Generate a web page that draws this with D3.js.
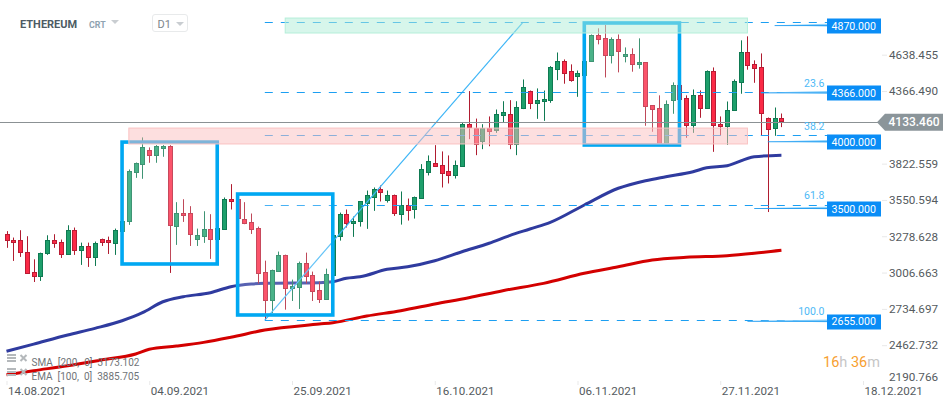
<!DOCTYPE html>
<html>
<head>
<meta charset="utf-8">
<title>ETHEREUM D1</title>
<style>
  html, body { margin: 0; padding: 0; background: #fff; }
  svg { display: block; font-family: Roboto, sans-serif; }
  .yaxis text, .xaxis text { fill: #555b60; font-family: Roboto, sans-serif; }
  .yaxis text { font-size: 11.7px; }
  .xaxis text { font-size: 11.6px; }
  .yaxis line, .xaxis line { stroke: #e9e9e9; }
</style>
</head>
<body>
<script src="https://d3js.org/d3.v7.min.js"></script>
<script>
// daily candles, first one is 14.08.2021
var firstDay = new Date(Date.UTC(2021, 7, 14));

var opens = [3292,3254,3247,3164,3014,2984,3146,3254,3239,3149,
  3329,3179,3209,3126,3261,3247,3231,3321,3389,3764,
  3816,3921,3884,3936,3951,3359,3456,3456,3261,3284,
  3336,3261,3336,3561,3554,3411,3389,3344,3014,2804,
  3021,3141,2894,2901,3081,2991,2879,2812,2991,3284,
  3449,3381,3389,3524,3576,3636,3546,3584,3449,3516,
  3479,3561,3764,3831,3816,3764,3734,3798,4116,4093,
  3993,4093,4068,4181,4198,3976,4241,4363,4273,4288,
  4293,4533,4595,4513,4473,4490,4588,4783,4761,4633,
  4753,4626,4641,4566,4581,4258,4236,3976,4296,4408,
  4311,4108,4334,4236,4513,4116,4108,4221,4431,4656,
  4566,4543,4168,4086,4161];
var highs = [3317,3269,3324,3279,3106,3156,3286,3294,3254,3361,
  3344,3231,3231,3239,3261,3276,3336,3411,3779,3831,
  4019,3944,3961,3961,3961,3534,3556,3504,3336,3466,
  3444,3349,3569,3669,3570,3534,3449,3351,3096,3029,
  3164,3141,2954,3089,3156,3014,2939,3036,3291,3456,
  3479,3426,3539,3621,3644,3659,3621,3591,3614,3561,
  3576,3819,3884,3961,3914,3884,3846,4128,4366,4160,
  4118,4176,4228,4290,4298,4290,4453,4370,4386,4370,
  4553,4655,4603,4566,4520,4595,4790,4836,4861,4768,
  4790,4693,4686,4761,4581,4258,4334,4296,4431,4408,
  4334,4378,4371,4521,4543,4176,4288,4453,4746,4776,
  4596,4648,4168,4243,4198];
var lows = [3192,3094,3124,3004,2936,2944,3139,3192,3116,3146,
  3139,3064,3049,3056,3206,3146,3139,3321,3364,3716,
  3709,3829,3829,3874,3004,3214,3386,3206,3206,3229,
  3109,3256,3334,3479,3404,3369,3296,2924,2649,2704,
  3021,2729,2794,2734,2924,2794,2779,2809,2991,3246,
  3344,3274,3351,3334,3469,3539,3531,3431,3366,3396,
  3411,3561,3734,3799,3644,3674,3711,3798,4006,3886,
  3931,3953,4053,4131,3931,3886,4231,4231,4158,4143,
  4278,4448,4421,4436,4323,4490,4588,4716,4468,4573,
  4506,4581,4511,4534,4106,4061,3976,3976,4196,4303,
  4016,4053,4166,4233,3911,4033,3963,4218,4346,4526,
  4428,4036,3460,4031,4096];
var closes = [3247,3239,3156,3006,2984,3156,3247,3229,3149,3329,
  3179,3209,3126,3231,3239,3231,3329,3396,3764,3831,
  3944,3884,3951,3951,3359,3456,3441,3299,3291,3336,
  3261,3344,3561,3546,3411,3379,3336,3004,2804,3029,
  3141,2894,2909,3081,2984,2871,2812,2999,3291,3449,
  3381,3396,3539,3584,3636,3614,3584,3449,3516,3479,
  3569,3779,3846,3809,3756,3734,3809,4116,4091,3976,
  4093,4068,4191,4206,3976,4250,4400,4273,4296,4303,
  4543,4595,4505,4446,4498,4595,4783,4753,4633,4753,
  4663,4641,4566,4581,4251,4228,3976,4266,4408,4303,
  4106,4334,4236,4513,4108,4101,4228,4438,4656,4558,
  4536,4198,4086,4161,4136];

// moving averages, read at these day numbers
var emaDays = [0,4,9,13,17,20,23,26,30,33,36,38,46,48,50,52,56,59,63,67,71,74,77,80,85,90,94,97,101,103,106,110,114];
var emaValues = [2417,2471,2539,2589,2646,2706,2788,2826,2856,2901,2921,2926,2931,2938,2964,2975,3031,3050,3095,3163,3226,3283,3333,3383,3513,3638,3695,3725,3762,3792,3807,3874,3885.7];
var smaDays = [0,4,9,14,19,21,25,29,33,38,46,48,53,58,63,68,73,79,85,90,95,100,106,110,114];
var smaValues = [2241,2272,2309,2352,2397,2432,2456,2484,2522,2576,2621,2631,2681,2721,2771,2818,2871,2926,3001,3050,3101,3121,3133,3151,3173.1];

// axis
var priceTicks = [4638.455,4366.490,3822.559,3550.594,3278.628,3006.663,2734.697,2462.732,2190.766];
var dateTicks = [0,21,42,63,84,105,126];

// horizontal levels with their blue tags
var tagPrices = [4870,4366,4000,3500,2655];
var tagFromDays = [113,111,112,110,109];

// fibonacci drawing
var fibLevels = [4883,4359,4037,3513,2651];
var fibNames = ["","23.6","38.2","61.8","100.0"];
var fibStartDay = 38;
var fibEndDay = 76;

// rectangles: first day, last day, top price, bottom price
var boxFirstDays = [17,34,85];
var boxLastDays = [31,48,99];
var boxTops = [3984,3595,4876];
var boxBottoms = [3071,2689,3962];

var greenZone = [41,109,4913,4801];
var redZone = [18,109,4089,3970];

var lastPrice = 4133.46;

var width = 950, height = 407;
var svg = d3.select("body").append("svg").attr("width", width).attr("height", height);

var x = d3.scaleUtc()
  .domain([firstDay, d3.utcDay.offset(firstDay, 126)])
  .range([6.5, 863]);
var y = d3.scaleLinear().domain([4638.455, 2462.732]).range([54.7, 345.2]);
function xd(n) { return x(d3.utcDay.offset(firstDay, n)); }

// axes
var yAxis = d3.axisRight(y).tickValues(priceTicks).tickSize(5).tickPadding(2)
  .tickFormat(d3.format(".3f"));
var gy = svg.append("g").attr("class", "yaxis").attr("transform", "translate(882,0)").call(yAxis);
gy.select(".domain").remove();
// lowest label is pushed up by the window edge
var lowTick = gy.selectAll(".tick").filter(function (d) { return d === 2190.766; });
lowTick.select("line").remove();
lowTick.select("text").attr("y", -4.5);

var xAxis = d3.axisBottom(x)
  .tickValues(dateTicks.map(function (n) { return d3.utcDay.offset(firstDay, n); }))
  .tickSize(-4).tickPadding(2).tickFormat(d3.utcFormat("%d.%m.%Y"));
var gx = svg.append("g").attr("class", "xaxis").attr("transform", "translate(0,385)").call(xAxis);
gx.select(".domain").remove();
gx.selectAll("text").attr("text-anchor", "start").attr("x", 1);

// moving averages under the candles
function maLine(days, values, color) {
  var line = d3.line()
    .curve(d3.curveMonotoneX)
    .x(function (d) { return xd(d); })
    .y(function (d, i) { return y(values[i]); });
  svg.append("path").attr("d", line(days))
    .attr("fill", "none").attr("stroke", color).attr("stroke-width", 3)
    .attr("stroke-linejoin", "round");
}
maLine(emaDays, emaValues, "#2f3b9f");
maLine(smaDays, smaValues, "#d30000");

// candles
var candles = svg.append("g").selectAll("g").data(opens).enter().append("g");
function isUp(i) { return closes[i] >= opens[i]; }
candles.append("line")
  .attr("x1", function (d, i) { return Math.round(xd(i)) + 0.5; })
  .attr("x2", function (d, i) { return Math.round(xd(i)) + 0.5; })
  .attr("y1", function (d, i) { return y(highs[i]); })
  .attr("y2", function (d, i) { return y(lows[i]); })
  .attr("stroke", function (d, i) { return isUp(i) ? "#0f7a52" : "#b01c30"; });
candles.append("rect")
  .attr("x", function (d, i) { return Math.round(xd(i)) - 1.5; })
  .attr("width", 4)
  .attr("y", function (d, i) { return Math.round(y(Math.max(opens[i], closes[i]))) + 0.5; })
  .attr("height", function (d, i) { return Math.max(1, Math.round(Math.abs(y(opens[i]) - y(closes[i])))); })
  .attr("fill", function (d, i) { return isUp(i) ? "#1d9f6b" : "#fb2a46"; })
  .attr("stroke", function (d, i) { return isUp(i) ? "#0f7a52" : "#b91c34"; });

// fibonacci trend line and dashed levels
svg.append("line")
  .attr("x1", xd(fibStartDay)).attr("y1", y(fibLevels[4]))
  .attr("x2", xd(fibEndDay)).attr("y2", y(fibLevels[0]))
  .attr("stroke", "#3db5f6").attr("stroke-width", 1.2);
svg.append("g").selectAll("line").data(fibLevels).enter().append("line")
  .attr("x1", xd(fibStartDay)).attr("x2", 827)
  .attr("y1", function (d) { return Math.round(y(d)) + 0.5; })
  .attr("y2", function (d) { return Math.round(y(d)) + 0.5; })
  .attr("stroke", "#1c9ff2").attr("stroke-dasharray", "8,8");

// blue rectangles, slightly veiling what is inside
svg.append("g").selectAll("rect").data(boxFirstDays).enter().append("rect")
  .attr("x", function (d) { return xd(d); })
  .attr("width", function (d, i) { return xd(boxLastDays[i]) - xd(d); })
  .attr("y", function (d, i) { return y(boxTops[i]); })
  .attr("height", function (d, i) { return y(boxBottoms[i]) - y(boxTops[i]); })
  .attr("fill", "rgba(255,255,255,0.2)")
  .attr("stroke", "#00a8f2").attr("stroke-width", 3.6);

// zones go over the rectangles
function zone(z, fill, edge) {
  svg.append("rect")
    .attr("x", xd(z[0])).attr("width", xd(z[1]) - xd(z[0]))
    .attr("y", y(z[2])).attr("height", y(z[3]) - y(z[2]))
    .attr("fill", fill).attr("stroke", edge);
}
zone(greenZone, "rgba(175,238,216,0.5)", "#b5eed9");
zone(redZone, "rgba(252,192,192,0.5)", "#fac2c2");

// last price line
svg.append("line")
  .attr("x1", 0).attr("x2", 878)
  .attr("y1", Math.round(y(lastPrice)) + 0.5).attr("y2", Math.round(y(lastPrice)) + 0.5)
  .attr("stroke", "#8b9194");

// tags on the right
var tags = svg.append("g").selectAll("g").data(tagPrices).enter().append("g");
tags.append("path")
  .attr("d", function (d, i) {
    var a = xd(tagFromDays[i]), b = y(d);
    return "M" + a + "," + (b + 1.5) + "L827," + b + "L827," + (b + 2.6) + "Z";
  })
  .attr("fill", "#8ed2fb");
tags.append("line")
  .attr("x1", function (d, i) { return xd(tagFromDays[i]); }).attr("x2", 827)
  .attr("y1", function (d) { return y(d) + 1.8; }).attr("y2", function (d) { return y(d) + 1.8; })
  .attr("stroke", "#1c9bf2").attr("stroke-width", 0.9);
tags.append("rect")
  .attr("x", 827).attr("width", 54).attr("height", 15)
  .attr("y", function (d) { return Math.round(y(d) + 2) - 7.5; })
  .attr("fill", "#0a8df6");
tags.append("text")
  .attr("x", 831.5).attr("y", function (d) { return y(d) + 2; }).attr("dy", "0.36em")
  .attr("fill", "#fff").attr("font-size", 10.6)
  .text(function (d) { return d3.format(".3f")(d); });

// fib names
svg.append("g").selectAll("text").data(fibNames).enter().append("text")
  .attr("x", 824.5).attr("y", function (d, i) { return y(fibLevels[i]) - 5.5; })
  .attr("text-anchor", "end").attr("fill", "#4db9f6").attr("font-size", 10.5)
  .text(function (d) { return d; });

// current price flag
var py = y(lastPrice);
svg.append("path")
  .attr("d", "M877," + py + "L885," + (py - 8.5) + "L943," + (py - 8.5) + "L943," + (py + 8.5) + "L885," + (py + 8.5) + "Z")
  .attr("fill", "#8b959a");
svg.append("text").attr("x", 888.5).attr("y", py).attr("dy", "0.36em")
  .attr("fill", "#fff").attr("font-size", 12).attr("font-weight", 500)
  .text("4133.460");

// header
svg.append("text").attr("x", 20).attr("y", 27.5).attr("fill", "#4d5b64")
  .attr("font-size", 11).attr("font-weight", 700).text("ETHEREUM");
svg.append("text").attr("x", 89).attr("y", 27.5).attr("fill", "#8fa3b1")
  .attr("font-size", 8.8).attr("font-weight", 700).text("CRT");
svg.append("path").attr("d", "M111,20L119,20L115,24Z").attr("fill", "#c9cdd1");
svg.append("rect").attr("x", 152.5).attr("y", 14.5).attr("width", 35).attr("height", 17).attr("rx", 2.5)
  .attr("fill", "#fff").attr("stroke", "#e8eaeb");
svg.append("text").attr("x", 157.5).attr("y", 27.5).attr("fill", "#7d858a").attr("font-size", 11).text("D1");
svg.append("path").attr("d", "M176,22L184,22L180,26Z").attr("fill", "#c9cdd1");

// indicator legend
var legendNames = ["SMA  [200,  0]  3173.102", "EMA  [100,  0]  3885.705"];
var legend = svg.append("g").selectAll("g").data(legendNames).enter().append("g")
  .attr("transform", function (d, i) { return "translate(0," + (361.5 + i * 14) + ")"; });
legend.append("path").attr("d", "M7,-6.5H16M7,-3.5H16M7,-0.5H16").attr("stroke", "#b4b8bb").attr("stroke-width", 2);
legend.append("path").attr("d", "M20.5,-6.5L26.5,-0.5M26.5,-6.5L20.5,-0.5").attr("stroke", "#b4b8bb").attr("stroke-width", 2);
legend.append("text").attr("x", 31.5).attr("y", 4).attr("fill", "#6f7478").attr("font-size", 10)
  .attr("xml:space", "preserve").style("white-space", "pre").text(function (d) { return d; });

// countdown
var timer = svg.append("text").attr("x", 823).attr("y", 367).attr("font-size", 14.5);
timer.append("tspan").attr("fill", "#f7a030").text("16");
timer.append("tspan").attr("fill", "#c6c6c6").text("h ");
timer.append("tspan").attr("fill", "#f7a030").text("36");
timer.append("tspan").attr("fill", "#c6c6c6").text("m");
</script>
</body>
</html>
